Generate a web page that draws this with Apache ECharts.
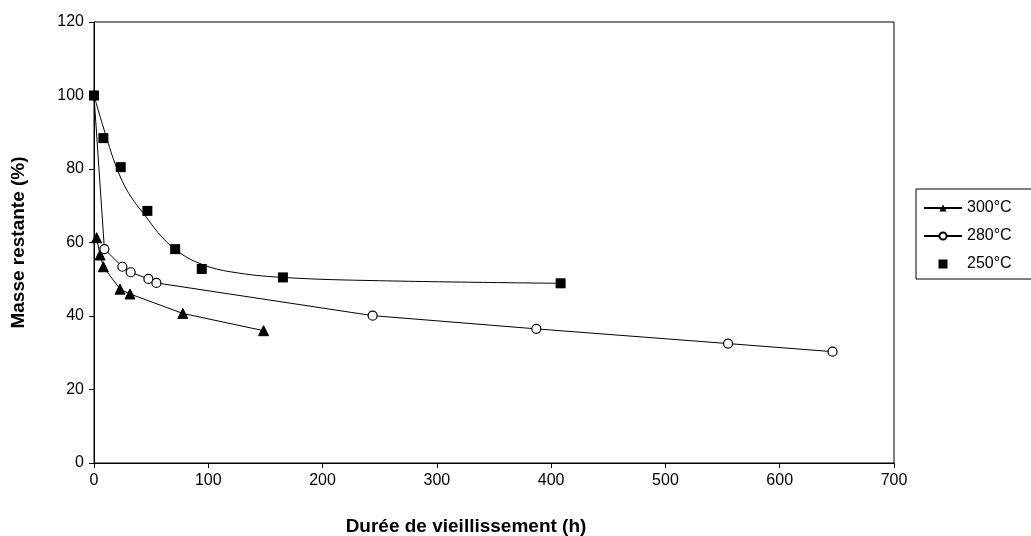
<!DOCTYPE html>
<html>
<head>
<meta charset="utf-8">
<script src="https://cdn.jsdelivr.net/npm/echarts@6/dist/echarts.min.js"></script>
<style>html,body{margin:0;padding:0;background:#fff;}#c{width:1031px;height:536px;}</style>
</head>
<body>
<div id="c"></div>
<script>
// Data
const seriesNames = ['300°C', '280°C', '250°C'];
const xTicks = [0, 100, 200, 300, 400, 500, 600, 700];
const yTicks = [0, 20, 40, 60, 80, 100, 120];

const t300 = [[2.3, 61.3], [5.3, 56.6], [8.2, 53.4], [22.8, 47.3], [31.5, 46.0], [77.7, 40.7], [148.4, 36.0]];
const t280 = [[0, 100], [9.1, 58.2], [24.8, 53.4], [32.1, 51.9], [47.6, 50.1], [54.6, 49.0], [243.8, 40.1], [387, 36.5], [554.8, 32.5], [646.2, 30.3]];
const t250 = [[0, 100], [8.2, 88.4], [23.4, 80.5], [46.7, 68.6], [71, 58.2], [94.3, 52.8], [165.3, 50.5], [408.3, 48.9]];
// smooth fitted curve drawn through the 250°C points
const fit250 = [[0, 100], [10, 89.5], [20, 80.2], [30, 73.6], [45, 67.2], [60, 61.3], [75, 57.2], [95, 54.0], [120, 52.0], [165, 50.5], [250, 49.6], [408.3, 48.9]];

const FONT = 'Liberation Sans, Arial, sans-serif';
const chart = echarts.init(document.getElementById('c'), null, {renderer: 'canvas'});
chart.setOption({
  animation: false,
  backgroundColor: '#fff',
  textStyle: {fontFamily: FONT, color: '#000'},
  grid: {left: 94, top: 22, right: 137, bottom: 73, show: true, borderColor: '#000', borderWidth: 1, backgroundColor: 'transparent'},
  xAxis: {
    type: 'value', min: xTicks[0], max: xTicks[xTicks.length - 1], interval: 100,
    axisLine: {show: true, onZero: false, lineStyle: {color: '#000', width: 1}},
    axisTick: {show: true, inside: false, length: 5, lineStyle: {color: '#000'}},
    axisLabel: {color: '#000', fontSize: 16, fontFamily: FONT, margin: 10},
    splitLine: {show: false}
  },
  yAxis: {
    type: 'value', min: yTicks[0], max: yTicks[yTicks.length - 1], interval: 20,
    name: 'Masse restante (%)', nameLocation: 'middle', nameGap: 66,
    nameTextStyle: {color: '#000', fontSize: 19, fontWeight: 'bold', fontFamily: FONT},
    axisLine: {show: true, onZero: false, lineStyle: {color: '#000', width: 1}},
    axisTick: {show: true, inside: false, length: 5, lineStyle: {color: '#000'}},
    axisLabel: {color: '#000', fontSize: 16, fontFamily: FONT, margin: 10},
    splitLine: {show: false}
  },
  graphic: [{
    type: 'text', x: 466, y: 527,
    style: {text: 'Durée de vieillissement (h)', fill: '#000', font: 'bold 19px ' + FONT, align: 'center', verticalAlign: 'middle'}
  }],
  legend: {
    data: [
      {name: seriesNames[0]},
      {name: seriesNames[1]},
      {name: seriesNames[2], icon: 'path://M0,0L10,0L10,10L0,10Z'}
    ],
    orient: 'vertical', left: 916, top: 189,
    width: 113,
    padding: [10, 30, 6, 7],
    borderColor: '#000', borderWidth: 1,
    itemWidth: 38, itemHeight: 9, itemGap: 10,
    symbolKeepAspect: true,
    textStyle: {color: '#000', fontSize: 16, fontFamily: FONT, lineHeight: 18}
  },
  series: [
    {
      name: seriesNames[0], type: 'line', data: t300,
      symbol: 'triangle', symbolSize: 10,
      lineStyle: {color: '#000', width: 1},
      itemStyle: {color: '#000', borderColor: '#000'},
      z: 3
    },
    {
      name: seriesNames[1], type: 'line', data: t280,
      symbol: 'circle', symbolSize: 9,
      lineStyle: {color: '#000', width: 1},
      itemStyle: {color: '#fff', borderColor: '#000', borderWidth: 1.2},
      z: 3
    },
    {
      name: 'fit250', type: 'line', data: fit250, smooth: 0.4,
      showSymbol: false, symbol: 'none',
      lineStyle: {color: '#000', width: 1},
      z: 2
    },
    {
      name: seriesNames[2], type: 'scatter', data: t250,
      symbol: 'rect', symbolSize: 10,
      itemStyle: {color: '#000', opacity: 1},
      z: 4
    }
  ]
});
</script>
</body>
</html>
